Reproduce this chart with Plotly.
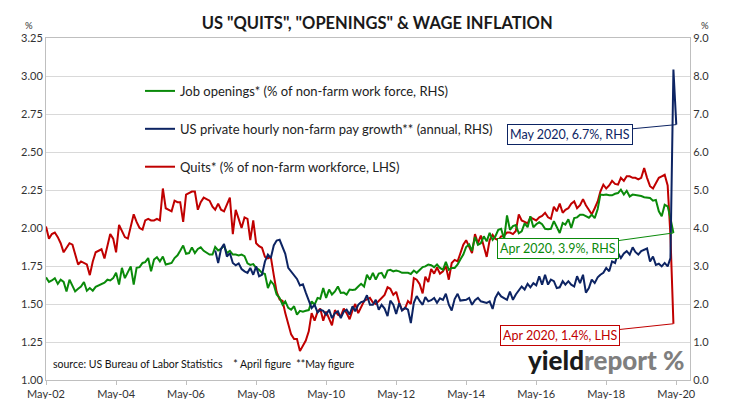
import pandas as pd
import plotly.graph_objects as go

# ---------------- data (monthly) ----------------
# Quits rate, % of non-farm workforce (LHS), May 2002 .. Apr 2020
quits = [
    2.01, 1.93, 1.96, 1.97, 1.94, 1.90, 1.84, 1.87, 1.90, 1.89,
    1.83, 1.76, 1.78, 1.77, 1.76, 1.69, 1.78, 1.84, 1.85, 1.86,
    1.80, 1.88, 1.96, 1.93, 1.84, 2.02, 1.98, 1.94, 1.93, 2.02,
    2.09, 2.04, 2.00, 1.99, 2.05, 2.06, 2.05, 2.05, 2.06, 2.05,
    2.26, 2.13, 2.12, 2.11, 2.18, 2.17, 2.17, 2.04, 2.22, 2.23,
    2.24, 2.24, 2.12, 2.17, 2.20, 2.19, 2.18, 2.14, 2.12, 2.16,
    2.12, 2.11, 2.16, 2.20, 1.96, 2.12, 2.06, 2.00, 2.07, 2.06,
    1.92, 2.05, 1.90, 1.88, 1.87, 1.81, 1.80, 1.81, 1.69, 1.58,
    1.53, 1.52, 1.44, 1.36, 1.30, 1.27, 1.27, 1.19, 1.23, 1.26,
    1.32, 1.44, 1.39, 1.45, 1.47, 1.39, 1.45, 1.41, 1.36, 1.46,
    1.43, 1.42, 1.47, 1.44, 1.40, 1.46, 1.50, 1.44, 1.48, 1.52,
    1.53, 1.54, 1.51, 1.50, 1.52, 1.54, 1.56, 1.61, 1.60, 1.56,
    1.58, 1.51, 1.46, 1.47, 1.52, 1.50, 1.67, 1.66, 1.63, 1.57,
    1.68, 1.645, 1.73, 1.70, 1.74, 1.70, 1.715, 1.75, 1.66, 1.77,
    1.79, 1.78, 1.84, 1.89, 1.92, 1.87, 1.835, 1.96, 1.90, 1.95,
    1.87, 1.81, 1.92, 1.955, 1.93, 1.92, 1.945, 1.95, 1.97, 1.97,
    1.96, 1.98, 2.09, 2.05, 2.04, 2.03, 2.07, 2.06, 2.05, 2.07,
    2.08, 2.10, 2.07, 2.06, 2.14, 2.11, 2.16, 2.10, 2.12, 2.13,
    2.16, 2.175, 2.13, 2.15, 2.19, 2.15, 2.12, 2.09, 2.13, 2.175,
    2.24, 2.285, 2.26, 2.28, 2.31, 2.29, 2.285, 2.33, 2.31, 2.34,
    2.34, 2.33, 2.33, 2.32, 2.33, 2.395, 2.33, 2.275, 2.26, 2.30,
    2.33, 2.34, 2.35, 2.28, 1.95, 1.37,
]

# Job openings, % of non-farm work force (RHS), May 2002 .. Apr 2020
openings = [
    2.70, 2.58, 2.62, 2.68, 2.53, 2.64, 2.58, 2.33, 2.64, 2.46,
    2.33, 2.40, 2.46, 2.58, 2.35, 2.42, 2.35, 2.45, 2.49, 2.51,
    2.56, 2.64, 2.62, 2.68, 2.82, 2.51, 2.95, 2.68, 2.86, 2.99,
    2.51, 2.95, 2.97, 3.08, 3.10, 3.21, 2.86, 3.17, 3.23, 3.12,
    3.25, 3.04, 3.06, 3.08, 3.21, 3.28, 3.40, 3.54, 3.32, 3.34,
    3.49, 3.34, 3.45, 3.49, 3.40, 3.34, 3.30, 3.30, 3.50, 3.41,
    3.45, 3.54, 3.34, 3.40, 3.30, 3.30, 3.28, 3.30, 3.26, 3.07,
    3.03, 3.05, 2.95, 2.90, 2.82, 2.79, 2.42, 2.60, 2.51, 2.25,
    2.16, 1.98, 2.07, 1.90, 1.85, 1.94, 1.72, 1.82, 1.80, 1.82,
    1.84, 2.07, 1.98, 2.16, 2.14, 2.42, 2.16, 2.38, 2.25, 2.33,
    2.46, 2.29, 2.30, 2.25, 2.38, 2.37, 2.38, 2.46, 2.53, 2.46,
    2.77, 2.64, 2.82, 2.64, 2.80, 2.82, 2.68, 2.88, 2.90, 2.86,
    2.88, 2.86, 2.82, 2.82, 2.82, 2.79, 2.88, 2.82, 2.90, 2.97,
    2.99, 3.04, 3.02, 2.97, 3.04, 2.95, 2.90, 3.11, 2.90, 2.95,
    2.95, 3.04, 3.17, 3.30, 3.50, 3.57, 3.40, 3.76, 3.56, 3.60,
    3.78, 3.65, 3.87, 3.69, 3.78, 3.95, 3.98, 3.70, 4.33, 3.95,
    4.05, 4.08, 3.86, 3.91, 4.12, 4.02, 4.31, 4.02, 4.10, 4.15,
    4.10, 3.98, 3.97, 3.98, 4.18, 4.04, 3.87, 4.13, 4.09, 4.23,
    4.00, 4.26, 4.28, 4.35, 4.35, 4.31, 4.27, 4.35, 4.26, 4.50,
    4.88, 4.87, 4.88, 4.86, 4.86, 4.90, 4.92, 5.01, 4.88, 4.98,
    4.83, 4.88, 4.87, 4.86, 4.84, 4.81, 4.80, 4.79, 4.72, 4.74,
    4.44, 4.31, 4.61, 4.57, 4.26, 3.87,
]

# US private hourly non-farm pay growth, % annual (RHS), Mar 2007 .. May 2020
pay_growth = [
    3.41, 3.08, 3.45, 3.58, 3.25, 3.34, 3.08, 3.02, 3.07, 2.92,
    2.86, 2.82, 2.95, 2.77, 2.99, 2.73, 2.77, 3.12, 3.30, 3.21,
    3.54, 3.67, 3.69, 3.52, 3.32, 2.95, 2.86, 2.77, 2.66, 2.49,
    2.52, 2.30, 2.07, 1.89, 1.98, 1.78, 1.85, 1.82, 1.72, 1.85,
    1.63, 1.76, 1.81, 1.63, 1.80, 1.85, 1.72, 1.94, 1.81, 1.98,
    2.05, 2.07, 2.23, 1.98, 1.98, 2.11, 1.85, 1.98, 1.88, 1.68,
    2.09, 1.98, 1.74, 2.02, 1.83, 1.90, 1.85, 1.50, 2.03, 2.21,
    2.08, 1.98, 2.18, 2.07, 2.10, 2.16, 2.03, 2.15, 2.11, 2.27,
    1.98, 1.83, 2.13, 2.27, 2.09, 2.11, 2.11, 2.16, 1.98, 2.10,
    2.16, 2.07, 2.05, 2.03, 2.07, 1.87, 2.16, 2.30, 2.20, 2.16,
    2.11, 2.33, 2.11, 2.25, 2.35, 2.46, 2.38, 2.53, 2.44, 2.55,
    2.49, 2.73, 2.51, 2.77, 2.51, 2.64, 2.60, 2.42, 2.44, 2.60,
    2.51, 2.60, 2.51, 2.46, 2.73, 2.55, 2.77, 2.30, 2.42, 2.64,
    2.55, 2.70, 2.77, 2.82, 2.95, 2.86, 3.12, 3.08, 3.34, 3.21,
    3.33, 3.39, 3.30, 3.49, 3.37, 3.30, 3.39, 3.42, 3.46, 3.12,
    3.25, 3.03, 3.06, 2.99, 3.08, 2.99, 3.21, 8.17, 6.72,
]

jolts_start = "2002-05-01"
pay_start = "2007-03-01"
x_tick_start = "2002-05-01"
x_end = "2020-09-21"

labels = {
    "openings": "Job openings* (% of non-farm work force, RHS)",
    "pay": "US private hourly non-farm pay growth** (annual, RHS)",
    "quits": "Quits* (% of non-farm workforce, LHS)",
}

jolts_dates = pd.date_range(jolts_start, periods=len(quits), freq="MS")
open_dates = pd.date_range(jolts_start, periods=len(openings), freq="MS")
pay_dates = pd.date_range(pay_start, periods=len(pay_growth), freq="MS")

RED = "#C00000"
GREEN = "#0A8A0A"
NAVY = "#0D2463"
FONT = "Lato"

fig = go.Figure()
fig.add_trace(go.Scatter(x=jolts_dates, y=quits, name=labels["quits"], mode="lines",
                         line=dict(color=RED, width=2), yaxis="y", legendrank=3,
                         legendgroup="c"))
fig.add_trace(go.Scatter(x=open_dates, y=openings, name=labels["openings"], mode="lines",
                         line=dict(color=GREEN, width=2), yaxis="y2", legendrank=1,
                         legendgroup="a"))
fig.add_trace(go.Scatter(x=pay_dates, y=pay_growth, name=labels["pay"], mode="lines",
                         line=dict(color=NAVY, width=2), yaxis="y2", legendrank=2,
                         legendgroup="b"))

axis_font = dict(family=FONT, size=11, color="#333333")

fig.update_layout(
    width=731, height=399,
    margin=dict(l=38, r=49, t=30, b=27, autoexpand=False),
    paper_bgcolor="white", plot_bgcolor="white",
    font=dict(family=FONT, color="#222222"),
    title=dict(text='<b>US "QUITS", "OPENINGS" & WAGE INFLATION</b>',
               x=0.505, xref="container", xanchor="center",
               y=0.962, yref="container", yanchor="middle",
               font=dict(family=FONT, size=16.5, color="#1a1a1a")),
    showlegend=True,
    legend=dict(x=0.146, y=0.889, xanchor="left", yanchor="top",
                bgcolor="rgba(0,0,0,0)", font=dict(family=FONT, size=13, color="#222222"),
                tracegroupgap=18, itemwidth=30),
    xaxis=dict(type="date", range=[jolts_start, x_end], tick0=x_tick_start, dtick="M24",
               tickformat="%b-%y", ticks="outside", ticklen=4, tickcolor="#bfbfbf",
               showline=True, linecolor="#bfbfbf", linewidth=1, mirror=True,
               showgrid=False, tickfont=axis_font, automargin=False),
    yaxis=dict(range=[1.0, 3.25], tick0=1.0, dtick=0.25, tickformat=".2f",
               showgrid=True, gridcolor="#d9d9d9", gridwidth=1,
               showline=True, linecolor="#bfbfbf", linewidth=1,
               zeroline=False, ticks="", tickfont=axis_font, automargin=False),
    yaxis2=dict(range=[0, 9], tick0=0, dtick=1, tickformat=".1f", overlaying="y", side="right",
                showgrid=False, showline=True, linecolor="#bfbfbf", linewidth=1,
                zeroline=False, ticks="", tickfont=axis_font, automargin=False),
)

def callout(xv, yv, yref, text, color, ax, ay):
    fig.add_annotation(x=xv, y=yv, xref="x", yref=yref, text=text,
                       showarrow=True, arrowhead=0, arrowwidth=1, arrowcolor=color,
                       axref="pixel", ayref="pixel", ax=ax, ay=ay,
                       bordercolor=color, borderwidth=1, borderpad=2, bgcolor="white",
                       font=dict(family=FONT, size=12.5, color=color))

callout(pay_dates[-1], pay_growth[-1], "y2", "May 2020, 6.7%, RHS", NAVY, -106, 10)
callout(open_dates[-1], openings[-1], "y2", "Apr 2020, 3.9%, RHS", GREEN, -115, 16)
callout(jolts_dates[-1], quits[-1], "y", "Apr 2020, 1.4%, LHS", RED, -113, 12)

# axis unit labels
fig.add_annotation(x=-0.035, y=1.058, xref="paper", yref="paper", text="%", showarrow=False,
                   font=dict(family=FONT, size=9.5, color="#333333"))
fig.add_annotation(x=1.033, y=1.058, xref="paper", yref="paper", text="%", showarrow=False,
                   font=dict(family=FONT, size=9.5, color="#333333"))

# source note
fig.add_annotation(x=0.008, y=0.047, xref="paper", yref="paper", xanchor="left", yanchor="middle",
                   text="source: US Bureau of Labor Statistics    * April figure  **May figure",
                   showarrow=False, font=dict(family=FONT, size=10.5, color="#111111"))

# logo
fig.add_annotation(x=0.995, y=0.058, xref="paper", yref="paper", xanchor="right", yanchor="middle",
                   text="<span style='color:#1a1a1a'>yield</span><span style='color:#7f7f7f'>report</span>"
                        " <span style='color:#7f7f7f'>%</span>",
                   showarrow=False,
                   font=dict(family=FONT, size=26, weight=900))

fig.write_html("out.html")
